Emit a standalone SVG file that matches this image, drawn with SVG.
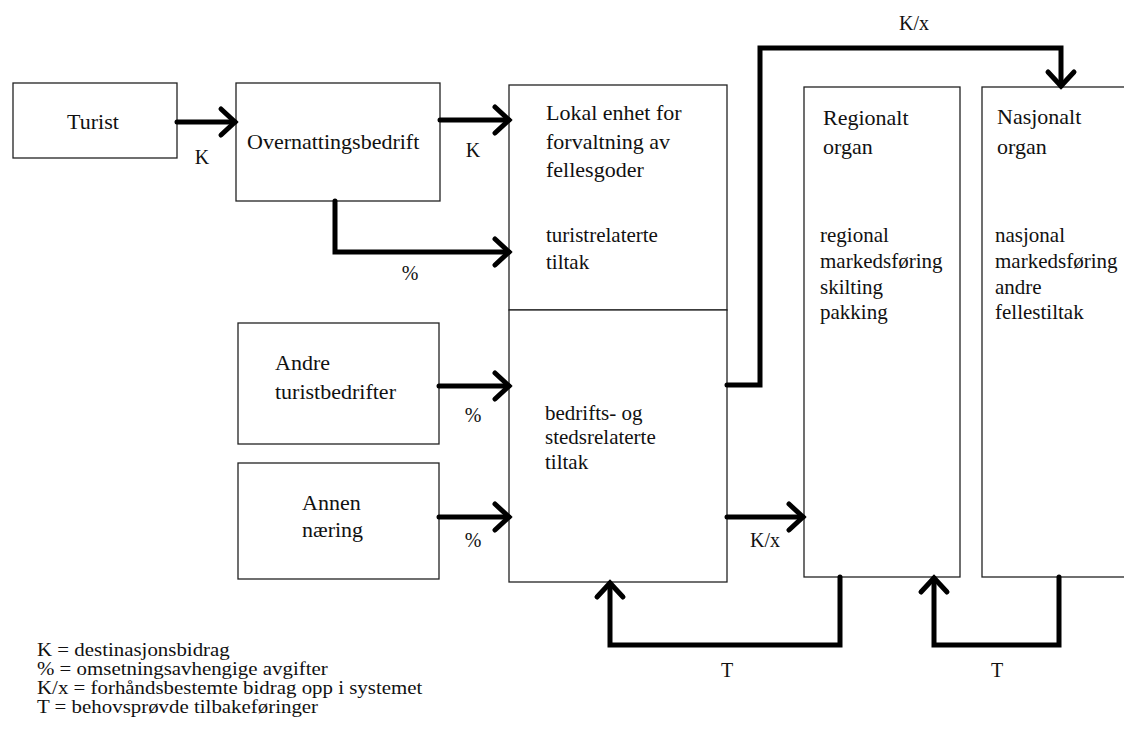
<svg xmlns="http://www.w3.org/2000/svg" width="1124" height="738" viewBox="0 0 1124 738">
<style>
text{font-family:"Liberation Serif","Times New Roman",serif;fill:#111;}
.h{font-size:22px;}
.b{font-size:21px;}
.l{font-size:20px;}
.g{font-size:18.5px;}
.box{fill:#fff;stroke:#222;stroke-width:1.3;}
.c{fill:none;stroke:#000;stroke-width:5;stroke-linecap:round;stroke-linejoin:miter;marker-end:url(#ah);}
</style>
<defs>
<marker id="ah" markerUnits="userSpaceOnUse" markerWidth="40" markerHeight="40" refX="0" refY="0" orient="auto" viewBox="-20 -20 40 40" overflow="visible">
<path d="M-14,-13 L0,0 L-14,13" fill="none" stroke="#000" stroke-width="5" stroke-linecap="round" stroke-linejoin="miter"/>
</marker>
</defs>
<rect width="1124" height="738" fill="#fff"/>
<g id="turist">
<rect class="box" x="13" y="83" width="164" height="75"/>
<text class="h" x="93" y="129" text-anchor="middle">Turist</text>
</g>
<g id="overnattingsbedrift">
<rect class="box" x="236" y="83" width="204" height="118"/>
<text class="h" x="247" y="149">Overnattingsbedrift</text>
</g>
<g id="lokal-enhet">
<rect class="box" x="509" y="85" width="218" height="225"/>
<text class="h" x="546" y="120">Lokal enhet for</text>
<text class="h" x="546" y="149">forvaltning av</text>
<text class="h" x="546" y="177">fellesgoder</text>
<text class="b" x="546" y="242">turistrelaterte</text>
<text class="b" x="546" y="269">tiltak</text>
</g>
<g id="bedrifts-tiltak">
<rect class="box" x="509" y="310" width="218" height="272"/>
<text class="b" x="545" y="420">bedrifts- og</text>
<text class="b" x="545" y="444">stedsrelaterte</text>
<text class="b" x="545" y="469">tiltak</text>
</g>
<g id="andre-turistbedrifter">
<rect class="box" x="238" y="323" width="201" height="121"/>
<text class="h" x="275" y="370">Andre</text>
<text class="h" x="275" y="399">turistbedrifter</text>
</g>
<g id="annen-naering">
<rect class="box" x="238" y="463" width="201" height="116"/>
<text class="h" x="302" y="510">Annen</text>
<text class="h" x="302" y="537">næring</text>
</g>
<g id="regionalt-organ">
<rect class="box" x="804" y="87" width="156" height="490"/>
<text class="h" x="823" y="125">Regionalt</text>
<text class="h" x="823" y="154">organ</text>
<text class="b" x="820" y="242">regional</text>
<text class="b" x="820" y="268">markedsføring</text>
<text class="b" x="820" y="294">skilting</text>
<text class="b" x="820" y="319">pakking</text>
</g>
<g id="nasjonalt-organ">
<rect class="box" x="982" y="87" width="160" height="490"/>
<text class="h" x="997" y="124">Nasjonalt</text>
<text class="h" x="997" y="154">organ</text>
<text class="b" x="995" y="242">nasjonal</text>
<text class="b" x="995" y="268">markedsføring</text>
<text class="b" x="995" y="294">andre</text>
<text class="b" x="995" y="319">fellestiltak</text>
</g>
<g id="connectors">
<path class="c" d="M177,122 H235"/>
<path class="c" d="M440,120 H509"/>
<path class="c" d="M335,201 V252 H509"/>
<path class="c" d="M439,386 H509"/>
<path class="c" d="M439,517 H509"/>
<path class="c" d="M727,385 H760 V48 H1061 V86"/>
<path class="c" d="M727,517 H803"/>
<path class="c" d="M840,577 V645 H610 V583"/>
<path class="c" d="M1059,577 V645 H934 V578"/>
<text class="l" x="202" y="164" text-anchor="middle">K</text>
<text class="l" x="473" y="157" text-anchor="middle">K</text>
<text class="l" x="410" y="280" text-anchor="middle">%</text>
<text class="l" x="473" y="422" text-anchor="middle">%</text>
<text class="l" x="473" y="547" text-anchor="middle">%</text>
<text class="l" x="914" y="30" text-anchor="middle">K/x</text>
<text class="l" x="765" y="547" text-anchor="middle">K/x</text>
<text class="l" x="727" y="677" text-anchor="middle">T</text>
<text class="l" x="997" y="677" text-anchor="middle">T</text>
</g>
<g id="legend" transform="translate(37,0) scale(1.13,1)">
<text class="g" x="0" y="656">K = destinasjonsbidrag</text>
<text class="g" x="0" y="675">% = omsetningsavhengige avgifter</text>
<text class="g" x="0" y="694">K/x = forhåndsbestemte bidrag opp i systemet</text>
<text class="g" x="0" y="713">T = behovsprøvde tilbakeføringer</text>
</g>
</svg>
